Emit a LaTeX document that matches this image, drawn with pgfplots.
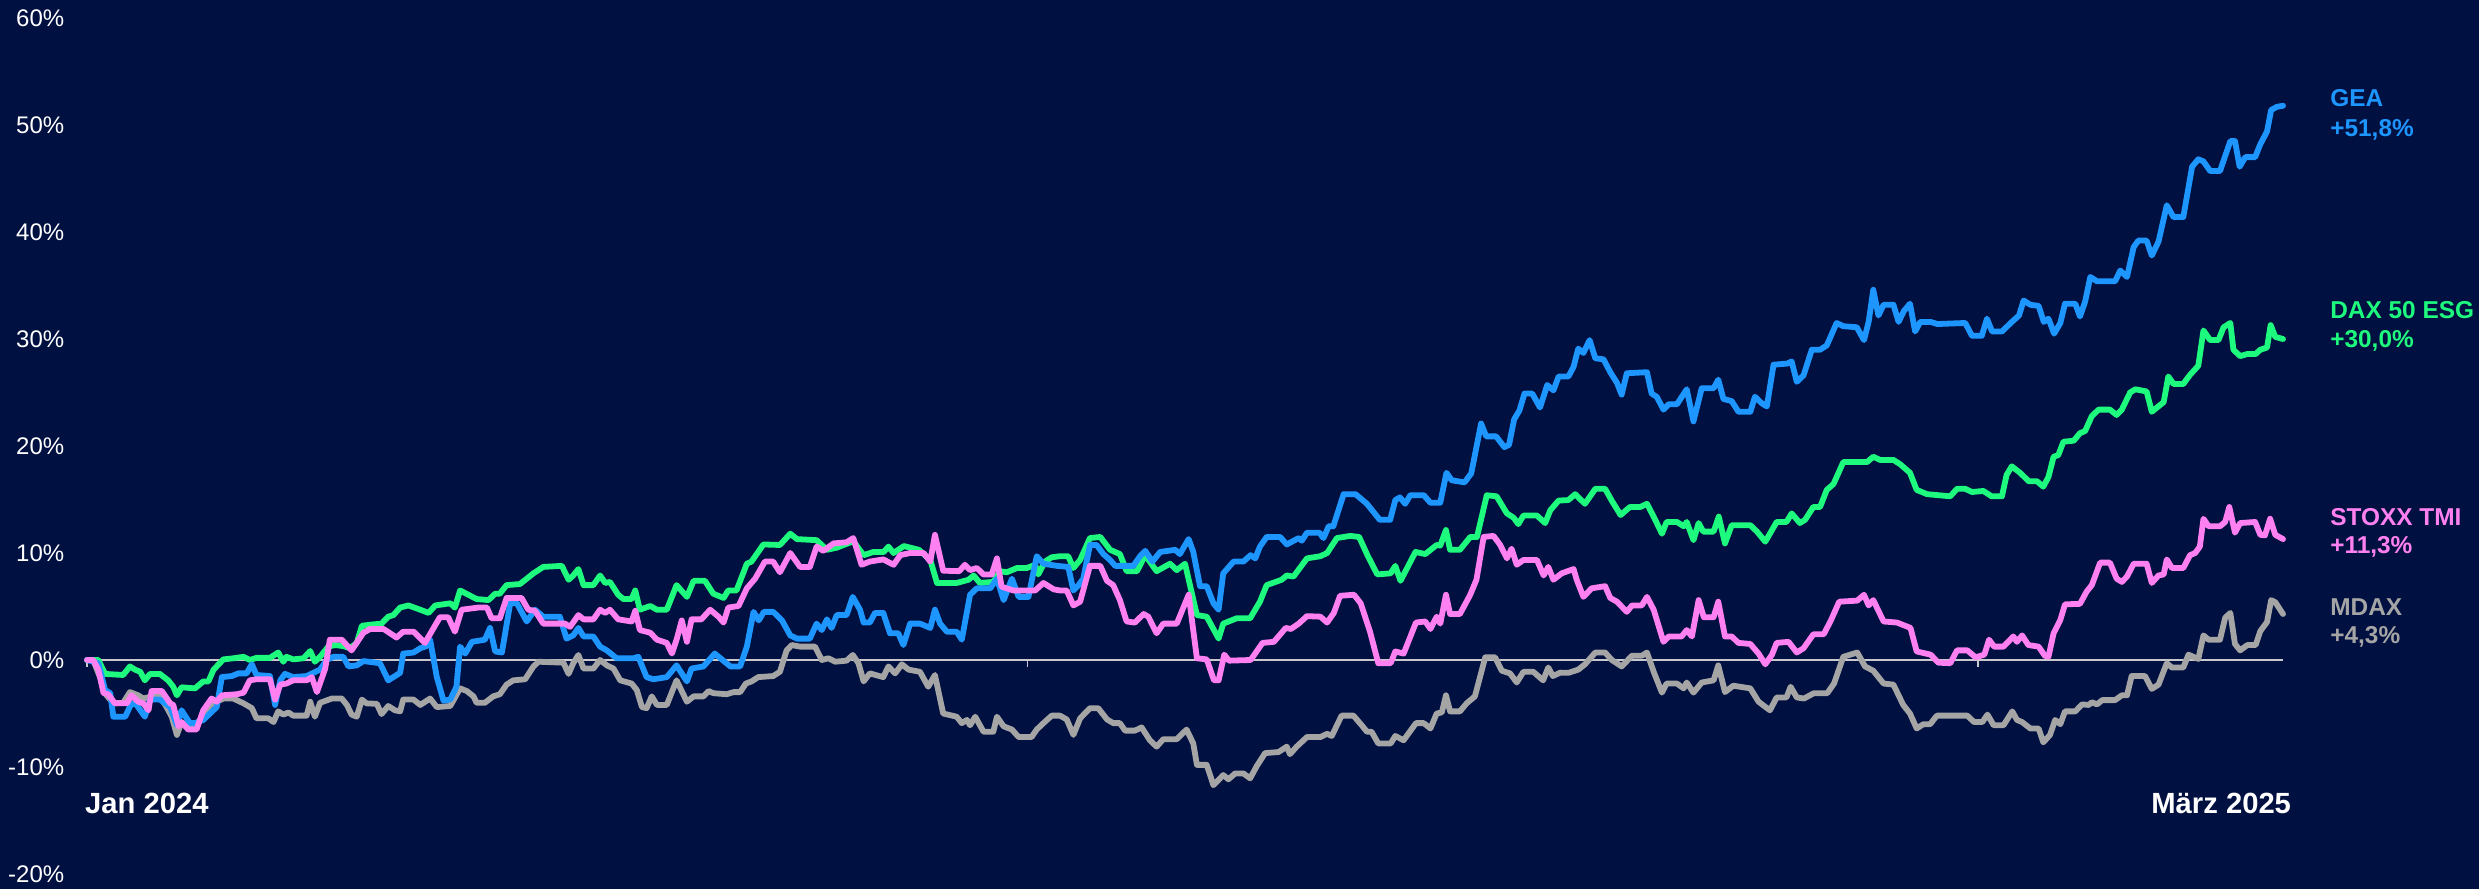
\documentclass[border=0pt]{standalone}
\usepackage{pgfplots}
\usepackage{pgfplotstable}
\usepackage{fontspec}
\pgfplotsset{compat=1.18}
\setmainfont{Liberation Sans}

\definecolor{bgnavy}{RGB}{0,16,64}
\definecolor{geablue}{RGB}{30,150,255}
\definecolor{daxgreen}{RGB}{30,250,125}
\definecolor{stoxxpink}{RGB}{255,128,240}
\definecolor{mdaxgray}{RGB}{165,165,165}
\definecolor{zeroline}{RGB}{200,200,205}

% day = days since 1 Jan 2024, value = performance in %
\pgfplotstableread{
day val
0 0
2.2 -0.3
3.5 -2.8
4.5 -3.1
5.1 -5.3
7.4 -5.3
8.6 -4.05
9.6 -4.2
11.2 -5.3
12.2 -3.7
14.1 -3.7
16.1 -4.4
17.4 -6.1
18.3 -4.7
19.9 -5.9
20.9 -5.9
22.5 -5.6
25.1 -4.4
26.1 -1.6
28.0 -1.5
29.3 -1.25
30.9 -1.25
31.9 -0.4
32.8 -1.4
35.4 -1.5
36.4 -4.2
37.4 -1.9
38.3 -1.3
39.9 -1.6
42.5 -1.5
43.8 -1.2
45.1 -0.9
46.4 0
47.7 0.3
49.6 0.3
50.6 -0.6
52.2 -0.5
53.5 -0.1
56.7 -0.3
58.3 -1.9
60.6 -1.2
61.2 0.6
63.2 0.7
64.5 1.1
65.7 1.3
66.4 1.9
67.7 -1.6
69.0 -3.8
70.3 -3.7
71.5 -2.5
72.2 1.25
73.2 0.6
74.5 1.7
77.0 1.9
78.0 3.0
79.0 0.8
80.3 0.7
81.9 5.3
83.2 5.3
85.1 3.6
86.7 4.7
88.3 4.05
91.5 4.05
92.8 2.0
94.1 2.3
95.1 3.0
96.1 2.2
98.0 2.2
99.3 1.25
100.6 0.9
102.5 0.16
105.7 0.16
106.7 0.3
108.3 -1.6
109.6 -1.8
112.2 -1.6
114.1 -0.5
116.1 -2.0
117.0 -0.8
119.3 -0.6
121.5 0.6
124.5 -0.6
126.4 -0.6
127.7 1.25
129.0 4.5
130.0 3.7
131.0 4.5
132.8 4.5
134.5 3.7
136.1 2.3
137.4 2.0
139.9 2.0
141.2 3.4
142.2 2.8
143.2 3.8
144.1 3.0
145.1 4.2
147.0 4.2
148.2 5.9
149.6 4.7
150.3 3.5
151.5 3.5
152.5 4.4
154.1 4.4
155.4 2.5
157.0 2.5
158.0 1.4
159.3 3.4
161.2 3.4
163.2 3.0
164.1 4.7
165.1 3.4
166.4 2.65
168.3 2.65
169.3 1.9
170.9 6.1
172.2 6.7
174.8 6.7
176.1 7.6
177.4 5.6
179.0 7.6
180.3 5.9
182.2 5.9
183.8 9.7
185.1 9.0
187.7 8.8
189.9 8.7
190.9 6.5
191.9 7.0
192.8 7.6
194.1 10.75
195.4 10.75
196.7 9.9
198.0 9.35
199.0 8.8
202.5 8.8
203.8 9.7
204.8 10.2
206.2 9.2
207.7 10.1
210.6 10.3
211.5 9.9
213.2 11.3
214.1 10.1
215.4 6.9
216.7 6.9
218.0 5.3
219.0 4.7
219.9 8.1
221.9 9.2
223.8 9.2
225.2 9.8
226.1 9.5
227.0 10.6
228.3 11.5
230.9 11.5
232.2 10.8
234.5 11.4
235.1 11.15
236.1 11.9
238.5 11.9
239.3 11.4
240.3 12.5
241.2 12.5
243.2 15.5
245.5 15.5
247.7 14.6
248.7 14.0
250.2 13.1
252.2 13.1
253.2 14.95
254.1 15.2
255.1 14.6
256.1 15.4
258.7 15.4
260.0 14.7
261.9 14.7
263.1 17.5
264.1 16.8
266.6 16.6
267.9 17.45
269.8 22.1
270.8 20.9
272.7 20.9
274.3 19.9
275.2 20.1
276.2 22.5
277.2 23.3
278.2 24.9
279.7 24.9
281.2 23.6
282.6 25.7
283.8 25.2
284.8 26.5
286.7 26.5
287.7 27.4
288.6 29.1
289.6 28.7
290.8 29.9
291.9 28.2
293.5 28.1
294.8 26.9
296.1 25.9
297.0 24.8
298.0 26.8
301.9 26.9
302.8 24.9
303.8 24.6
305.1 23.4
306.1 23.9
307.7 23.9
309.6 25.3
310.9 22.3
312.5 25.4
314.8 25.4
315.7 26.2
316.7 24.4
318.3 24.2
319.6 23.2
321.9 23.2
322.8 24.6
324.1 24.0
325.1 23.7
326.4 27.6
329.0 27.7
329.9 27.9
330.9 26.0
332.2 26.6
333.8 29.0
335.4 29.0
336.7 29.4
338.6 31.5
339.9 31.2
342.5 31.1
343.9 29.9
344.8 31.6
345.7 34.6
346.7 32.2
347.7 33.2
349.6 33.2
350.6 31.6
351.6 32.6
352.8 33.3
353.8 30.7
354.8 31.6
356.8 31.6
358.1 31.4
363.5 31.5
364.8 30.3
366.7 30.3
367.7 31.9
368.7 30.7
370.6 30.7
372.3 31.5
373.9 32.2
374.8 33.6
376.1 33.2
377.7 33.1
378.7 31.6
379.6 31.9
380.7 30.5
381.9 31.5
382.8 33.3
384.8 33.3
385.7 32.1
386.7 33.5
387.7 35.8
389.0 35.4
392.5 35.4
393.5 36.4
394.8 35.8
396.1 38.6
397.0 39.2
398.6 39.2
399.6 37.8
400.9 39.1
402.5 42.5
403.8 41.4
405.7 41.4
407.4 46.1
408.6 46.8
409.6 46.6
410.9 45.7
412.8 45.7
414.8 48.5
415.7 48.5
416.6 46.1
417.7 47.0
419.6 47.0
420.6 48.2
421.9 49.4
422.7 51.4
423.8 51.7
425.0 51.8
}\gea

\pgfplotstableread{
day val
0 0
2.2 0
3.5 -1.3
7.0 -1.4
8.3 -0.6
9.3 -0.9
10.3 -1.1
11.2 -1.9
12.2 -1.3
14.1 -1.3
15.7 -1.9
16.7 -2.5
17.4 -3.3
18.3 -2.55
20.9 -2.65
22.5 -2.0
23.5 -2.0
24.5 -0.9
25.1 -0.6
26.4 0.06
28.3 0.16
30.3 0.3
31.5 0
32.8 0.2
35.4 0.2
37.0 0.7
38.0 -0.16
38.6 0.3
39.9 0.06
41.9 0.16
43.2 0.84
44.1 -0.16
45.1 0.3
46.7 1.25
48.0 1.4
49.6 1.3
50.9 1.1
52.2 1.6
53.2 3.2
54.8 3.3
57.0 3.4
58.3 4.05
59.3 4.2
60.6 4.9
62.2 5.1
64.5 4.7
66.1 4.4
67.4 5.1
70.3 5.3
71.2 4.9
72.2 6.5
73.8 6.1
75.4 5.7
77.7 5.6
79.0 6.2
79.9 6.2
81.2 7.0
83.8 7.1
86.4 8.1
88.3 8.7
91.9 8.8
93.2 7.5
94.1 7.9
95.1 8.5
96.1 7.0
98.0 7.0
99.3 7.9
100.3 7.2
101.2 7.3
102.8 6.1
103.8 5.7
105.4 5.7
106.1 6.5
107.0 4.7
109.0 5.05
110.3 4.7
112.2 4.7
114.1 7.0
116.1 5.9
117.4 7.4
119.6 7.4
121.2 6.2
123.2 5.8
124.1 6.5
125.7 6.5
127.7 9.0
128.6 9.2
130.9 10.8
134.1 10.75
136.1 11.8
137.4 11.3
141.2 11.2
143.2 10.3
145.1 10.5
148.3 11.1
150.3 9.8
152.2 10.1
154.2 10.1
155.1 10.6
156.1 10.0
158.1 10.65
161.0 10.3
163.2 9.35
164.5 7.2
168.3 7.2
170.6 7.5
171.6 7.9
172.8 7.2
175.4 7.3
176.7 8.3
178.0 8.2
180.0 8.6
181.9 8.6
183.5 8.9
184.1 8.0
185.4 9.2
186.7 9.6
188.3 9.7
189.9 9.7
190.9 8.6
192.2 9.35
194.1 11.4
196.1 11.5
198.0 10.3
199.9 9.9
201.2 8.3
203.2 8.3
204.8 9.8
207.0 8.3
209.6 9.0
210.9 8.4
212.5 9.0
214.8 4.2
216.7 4.05
219.0 2.0
219.9 3.4
222.5 3.9
225.1 3.9
227.0 5.45
228.3 7.0
231.2 7.5
232.2 7.9
233.5 7.8
236.1 9.5
238.7 9.7
240.0 10.0
241.9 11.4
244.5 11.6
246.2 11.5
247.8 9.8
249.7 8.0
252.3 8.1
253.2 8.8
254.2 7.4
257.1 10.1
259.0 9.9
261.2 10.75
261.9 10.7
263.0 12.15
263.8 10.3
265.7 10.3
267.7 11.5
269.0 11.5
270.9 15.4
272.8 15.3
274.8 13.7
276.1 13.3
277.0 12.7
278.0 13.5
280.6 13.5
282.2 12.8
283.2 14.0
284.8 14.9
286.7 14.95
288.0 15.5
289.9 14.6
291.9 16.0
293.8 16.0
295.2 14.8
296.8 13.55
298.6 14.3
300.6 14.3
301.9 14.6
303.2 13.4
304.8 11.8
305.7 12.9
307.7 12.9
309.0 12.5
309.6 12.9
310.9 11.2
311.9 12.8
312.8 12.0
314.8 12.0
315.8 13.4
317.0 10.9
318.3 12.6
321.9 12.6
323.2 12.0
324.8 11.06
327.0 12.9
328.9 12.9
329.9 13.7
331.5 12.8
332.5 13.1
334.1 14.3
335.4 14.3
336.7 15.9
338.0 16.45
339.9 18.5
344.5 18.5
345.7 19.0
347.0 18.7
349.6 18.7
350.9 18.3
352.8 17.5
354.1 15.9
356.1 15.5
360.6 15.3
361.9 16.0
363.5 16.0
364.8 15.7
367.0 15.8
368.6 15.3
370.6 15.3
371.5 17.3
372.5 18.1
374.1 17.5
375.8 16.7
377.4 16.7
378.6 16.2
379.6 17.1
380.6 19.0
381.5 19.15
382.5 20.4
384.5 20.5
385.7 21.2
386.7 21.4
388.0 22.8
389.3 23.4
391.5 23.4
392.8 22.9
393.8 23.4
395.4 25.0
396.4 25.3
398.6 25.1
399.6 23.2
401.9 24.1
402.8 26.5
403.8 25.8
405.7 25.8
407.0 26.65
408.6 27.5
409.6 30.8
410.9 29.9
412.5 29.9
413.5 31.1
414.8 31.5
415.4 29.0
416.7 28.4
418.1 28.6
419.7 28.6
420.6 29.0
421.9 29.2
422.6 31.3
423.5 30.2
425.0 30.0
}\dax

\pgfplotstableread{
day val
0 0
1.2 0
2.2 -0.9
3.2 -3.1
4.1 -3.2
5.4 -4.05
7.7 -4.05
8.6 -3.3
9.9 -3.9
10.9 -4.05
11.9 -4.7
12.5 -2.9
14.5 -2.9
16.1 -4.05
16.7 -4.2
17.7 -6.2
18.3 -5.8
19.6 -6.5
21.2 -6.5
22.5 -4.7
24.1 -3.6
25.1 -3.9
26.1 -3.3
29.0 -3.2
30.3 -3.05
31.5 -1.9
32.8 -1.8
35.4 -1.8
36.4 -3.7
37.4 -2.3
38.6 -2.2
39.9 -1.9
42.5 -1.9
43.5 -1.6
44.5 -3.0
46.1 -0.8
47.0 1.9
49.3 1.9
51.2 0.9
53.5 2.55
54.8 2.9
57.4 2.9
59.9 2.1
61.2 2.65
63.2 2.65
65.4 1.6
68.3 4.0
69.9 4.0
71.2 2.65
72.5 4.7
75.7 4.9
77.4 4.9
78.3 3.9
79.9 3.9
81.2 5.8
84.1 5.8
85.4 4.7
86.7 4.6
88.3 3.4
92.5 3.4
93.5 3.1
95.1 4.2
96.1 3.8
98.0 3.8
99.3 4.7
100.3 4.4
101.2 4.7
102.8 3.8
105.4 3.6
106.1 4.6
107.0 2.8
109.0 2.55
110.3 1.9
112.2 1.6
113.2 0.6
114.1 1.9
115.1 3.7
116.1 1.7
117.0 3.8
118.9 3.8
120.6 4.7
122.2 4.05
123.2 3.5
124.1 4.9
126.1 5.05
127.7 6.7
129.3 7.6
131.2 9.2
132.8 9.2
134.1 8.2
136.1 10.0
138.0 8.7
139.9 8.7
141.2 10.6
142.5 10.2
144.5 10.9
147.0 11.0
148.3 11.4
149.9 8.9
151.5 9.2
154.1 9.4
156.1 8.9
157.4 9.8
159.3 10.0
161.9 10.0
163.2 9.2
164.1 11.7
165.7 8.35
168.8 8.3
169.9 8.9
170.9 8.4
172.2 8.6
173.5 8.0
175.1 8.0
176.1 9.5
177.0 6.85
179.3 6.5
183.5 6.5
185.1 7.2
187.1 6.6
188.3 6.5
189.6 6.5
190.9 5.1
192.2 5.45
194.1 8.8
196.1 8.8
197.4 7.4
198.6 7.0
199.9 5.6
201.2 3.6
202.8 3.5
204.5 4.3
205.4 4.05
207.0 2.5
208.3 3.4
210.9 3.4
213.2 6.1
214.8 0.16
216.7 0.06
218.1 -1.9
219.0 -1.9
220.1 0.5
221.0 -0.06
225.2 0
227.5 1.6
229.7 1.7
232.0 3.0
233.0 2.9
234.5 3.4
236.1 4.1
238.7 4.05
240.0 3.5
241.3 4.4
242.5 6.0
245.2 6.1
246.5 5.3
248.3 2.65
249.9 -0.3
252.3 -0.3
253.2 0.8
254.8 0.6
257.2 3.5
259.0 3.6
260.0 2.9
261.2 4.05
261.9 3.4
263.0 6.1
263.8 4.3
265.7 4.3
267.7 6.1
268.9 7.5
270.3 11.5
272.2 11.6
273.5 10.75
274.8 9.5
275.7 10.4
276.7 8.9
278.0 9.35
280.6 9.35
281.9 7.9
282.8 8.7
283.8 7.5
285.4 8.1
287.7 8.5
288.3 7.5
289.6 5.9
291.2 6.7
293.8 6.9
294.8 5.8
296.1 5.45
298.0 4.5
299.0 5.1
300.9 5.1
301.9 5.9
303.2 4.7
305.1 1.7
306.1 2.2
308.6 2.2
309.6 2.8
310.6 2.2
311.9 5.6
312.9 4.0
314.8 4.0
315.7 5.45
317.0 2.2
318.3 2.2
319.6 1.6
321.9 1.5
323.5 0.6
324.8 -0.4
326.1 0.5
327.0 1.6
329.3 1.7
330.9 0.7
332.2 1.1
334.1 2.4
336.1 2.4
337.5 3.7
339.1 5.45
342.6 5.55
343.9 6.1
344.8 5.1
345.7 5.6
347.7 3.6
350.3 3.5
352.9 3.0
354.1 0.8
356.8 0.5
358.3 -0.25
360.6 -0.3
361.9 0.9
363.9 0.9
365.5 0.25
367.2 0.5
368.1 1.9
369.1 1.25
370.9 1.25
372.8 2.2
373.5 1.7
374.5 2.3
375.7 1.4
377.7 1.25
378.9 0.4
379.6 0.3
380.6 2.5
381.9 3.75
382.8 5.2
385.7 5.25
387.0 6.4
388.0 7.0
389.6 9.1
391.5 9.1
392.8 7.6
393.8 7.3
394.8 7.8
396.1 9.0
398.6 9.0
399.6 7.2
400.9 7.9
401.9 8.0
402.5 9.4
403.5 8.6
405.7 8.6
407.0 9.8
408.0 10.0
408.9 10.6
409.6 13.2
410.6 12.5
412.8 12.5
413.8 12.9
414.6 14.3
415.7 11.9
416.7 12.8
419.6 12.9
420.6 11.7
421.5 11.65
422.5 13.2
423.5 11.7
425.0 11.3
}\stoxx

\pgfplotstableread{
day val
0 0
1.2 0
2.5 -1.6
3.8 -3.3
5.1 -4.05
7.0 -4.0
8.3 -3.0
9.9 -3.3
10.9 -3.6
12.5 -3.4
14.1 -3.4
15.4 -4.4
16.4 -5.3
17.4 -7.0
18.3 -5.8
19.9 -6.4
21.2 -6.1
22.5 -5.1
23.8 -4.2
25.1 -3.9
26.4 -3.6
28.3 -3.6
30.3 -4.05
31.9 -4.5
32.8 -5.45
35.1 -5.45
36.1 -5.8
37.0 -4.8
38.0 -5.1
39.0 -4.9
39.9 -5.2
42.5 -5.2
43.2 -3.9
44.1 -5.3
45.1 -4.0
47.4 -3.6
49.3 -3.6
50.3 -4.2
51.2 -5.1
52.2 -5.3
53.2 -3.7
54.1 -4.05
56.1 -4.1
57.0 -5.05
58.3 -4.3
59.6 -4.7
60.6 -4.8
61.2 -3.7
63.2 -3.7
64.5 -4.2
66.4 -3.6
67.7 -4.4
70.3 -4.3
72.2 -2.65
73.5 -2.9
74.8 -3.4
75.4 -4.0
77.0 -4.0
78.6 -3.4
79.9 -3.2
81.2 -2.3
82.5 -1.9
84.8 -1.8
86.4 -0.6
87.4 -0.16
92.2 -0.25
93.2 -1.3
94.1 -0.3
95.1 0.47
96.1 -0.8
98.0 -0.8
99.3 0
100.6 -0.5
101.9 -0.8
103.2 -1.9
105.4 -2.2
106.4 -2.8
107.4 -4.4
108.3 -4.5
109.3 -3.4
110.3 -4.2
112.2 -4.2
114.1 -1.9
116.1 -3.9
117.4 -3.4
119.3 -3.4
120.3 -2.9
121.2 -3.1
123.8 -3.2
125.1 -3.0
126.4 -3.0
127.5 -2.2
128.6 -2.0
129.9 -1.6
132.8 -1.5
134.1 -1.1
135.4 0.9
136.4 1.4
138.0 1.25
140.9 1.25
142.2 0
143.5 0.16
144.8 -0.16
147.0 -0.06
148.2 0.47
149.3 -0.3
150.3 -2.0
151.5 -1.25
154.1 -1.6
155.1 -0.6
156.4 -1.25
157.7 -0.4
159.0 -0.9
161.2 -1.1
162.8 -2.5
164.1 -1.4
165.7 -5.0
168.3 -5.3
169.3 -5.9
170.3 -5.6
170.9 -6.1
171.9 -5.3
173.5 -6.7
175.4 -6.7
176.1 -5.3
177.4 -6.2
179.0 -6.5
180.3 -7.2
182.8 -7.2
183.8 -6.5
185.1 -5.9
186.7 -5.2
188.3 -5.2
189.6 -5.55
190.9 -7.0
192.2 -5.45
194.1 -4.5
195.7 -4.5
197.4 -5.55
198.6 -5.9
199.9 -5.9
200.9 -6.6
202.8 -6.6
204.1 -6.3
205.7 -7.5
207.0 -8.1
208.3 -7.4
210.9 -7.4
212.8 -6.5
214.1 -7.8
214.8 -9.8
216.7 -9.8
218.0 -11.7
219.9 -10.75
220.9 -11.15
222.2 -10.6
223.8 -10.6
225.1 -11.06
226.4 -9.9
228.0 -8.7
230.6 -8.6
232.2 -8.1
232.8 -8.8
234.1 -8.1
236.1 -7.2
238.7 -7.2
240.0 -6.9
240.9 -7.1
242.8 -5.2
245.1 -5.2
246.7 -6.1
247.7 -6.7
248.6 -6.7
249.9 -7.8
252.3 -7.8
253.2 -7.1
254.8 -7.5
257.2 -5.9
258.7 -5.9
260.0 -6.4
261.2 -5.0
262.2 -4.9
263.0 -3.3
263.8 -4.8
265.7 -4.8
267.0 -4.05
268.6 -3.4
270.6 0.25
272.5 0.25
273.8 -1.0
275.4 -1.25
276.7 -2.1
278.0 -1.1
279.9 -1.1
281.8 -1.9
282.8 -0.7
283.7 -1.5
285.1 -1.18
286.7 -1.2
288.6 -0.9
289.9 -0.4
291.9 0.7
293.8 0.7
295.1 0
297.0 -0.6
299.0 0.4
300.9 0.4
301.9 0.7
303.2 -1.1
304.8 -3.05
305.7 -2.2
307.7 -2.2
309.0 -2.65
309.6 -2.1
310.9 -3.05
312.5 -2.1
314.8 -1.9
315.7 -0.5
317.0 -3.0
318.6 -2.4
321.9 -2.65
323.5 -3.9
325.7 -4.7
327.0 -3.5
328.9 -3.5
329.7 -2.5
330.9 -3.5
332.3 -3.6
334.2 -3.1
336.8 -3.1
338.1 -2.2
339.9 0.3
342.6 0.7
344.1 -0.6
345.7 -1.0
347.7 -2.2
349.6 -2.3
351.5 -4.2
352.8 -5.0
354.1 -6.4
355.4 -6.0
356.7 -6.0
358.0 -5.2
363.9 -5.2
365.2 -5.8
366.8 -5.8
367.8 -5.1
369.0 -6.1
370.9 -6.1
372.6 -4.8
373.5 -5.6
374.5 -5.8
376.1 -6.4
377.7 -6.4
378.6 -7.7
379.9 -7.0
380.9 -5.6
381.9 -6.0
382.8 -4.8
384.8 -4.8
386.1 -4.15
387.4 -4.2
388.0 -3.95
389.0 -4.15
390.0 -3.75
392.5 -3.75
393.8 -3.3
394.8 -3.3
395.7 -1.5
398.3 -1.5
399.6 -2.7
400.9 -2.3
402.5 -0.3
403.5 -0.7
405.7 -0.7
406.7 0.5
408.6 0.1
409.6 2.3
410.6 1.9
412.8 1.9
413.8 3.95
414.8 4.4
415.7 1.5
416.7 0.9
418.1 1.4
419.7 1.4
420.6 2.7
421.9 3.55
422.7 5.6
423.5 5.4
425.0 4.3
}\mdax

\begin{document}
\begin{tikzpicture}
% background (drawn larger than the page, page size set at the end)
\fill[bgnavy] (-40pt,-20pt) rectangle (620pt,240pt);
\begin{axis}[
    at={(0,0)}, anchor=south west,
    scale only axis,
    width=549pt, height=214pt,
    xmin=0, xmax=425,
    ymin=-20, ymax=60,
    axis line style={draw=none},
    major tick length=0pt,
    xtick=\empty,
    ytick={-20,-10,0,10,20,30,40,50,60},
    yticklabels={-20\%,-10\%,0\%,10\%,20\%,30\%,40\%,50\%,60\%},
    yticklabel style={anchor=east, inner sep=0pt, xshift=-5.5pt,
        text=white, font=\fontsize{6}{7}\selectfont},
    clip=false,
    every axis plot/.append style={line width=1.45pt, line join=round, line cap=round, no markers},
]
% zero line with small month ticks
\draw[zeroline, line width=0.45pt] (axis cs:0,0) -- (axis cs:425,0);
\draw[zeroline, line width=0.45pt] (axis cs:0,0) -- ++(0pt,-1.8pt);
\draw[zeroline, line width=0.45pt] (axis cs:182,0) -- ++(0pt,-1.8pt);
\draw[zeroline, line width=0.45pt] (axis cs:366,0) -- ++(0pt,-1.8pt);

\addplot[mdaxgray] table[x=day, y=val] {\mdax};
\addplot[daxgreen] table[x=day, y=val] {\dax};
\addplot[geablue] table[x=day, y=val] {\gea};
\addplot[stoxxpink] table[x=day, y=val] {\stoxx};

% date labels
\node[anchor=base west, inner sep=0pt, text=white, font=\bfseries\fontsize{7.3}{8}\selectfont]
    at (axis cs:-0.5,-14.36) {Jan 2024};
\node[anchor=base east, inner sep=0pt, text=white, font=\bfseries\fontsize{7.3}{8}\selectfont]
    at (axis cs:426.7,-14.36) {März 2025};

% series labels
\begin{scope}[every node/.style={anchor=base west, inner sep=0pt, font=\bfseries\fontsize{6.1}{7}\selectfont}]
\node[text=geablue] at (axis cs:434,51.7) {GEA};
\node[text=geablue] at (axis cs:434,48.9) {+51,8\%};
\node[text=daxgreen] at (axis cs:434,31.95) {DAX 50 ESG};
\node[text=daxgreen] at (axis cs:434,29.2) {+30,0\%};
\node[text=stoxxpink] at (axis cs:434,12.6) {STOXX TMI};
\node[text=stoxxpink] at (axis cs:434,9.95) {+11,3\%};
\node[text=mdaxgray] at (axis cs:434,4.2) {MDAX};
\node[text=mdaxgray] at (axis cs:434,1.5) {+4,3\%};
\end{scope}
\end{axis}
\pgfresetboundingbox
\path[use as bounding box] (-21.75pt,-3.5pt) rectangle (598pt,218.5pt);
\end{tikzpicture}
\end{document}
